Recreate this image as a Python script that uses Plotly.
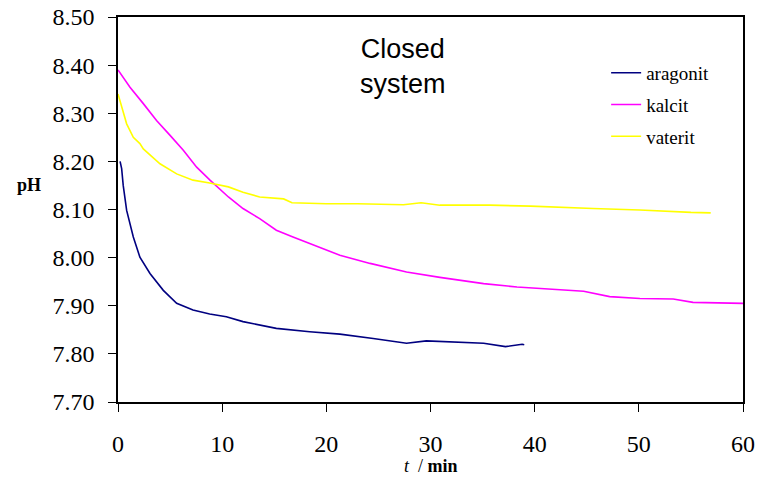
import plotly.graph_objects as go

# pH vs time for the three CaCO3 polymorphs in a closed system
t_aragonit = [0.2, 0.35, 0.5, 0.83, 1.47, 2.1, 3.07, 4.35, 5.63, 7.2, 8.8, 10.4, 12.0,
              13.6, 15.2, 18.4, 21.3, 24.5, 27.7, 29.6, 32.5, 35.1, 37.2, 38.8, 39.0]
ph_aragonit = [8.200, 8.185, 8.150, 8.098, 8.043, 8.001, 7.967, 7.932, 7.905, 7.891, 7.883,
               7.877, 7.867, 7.860, 7.853, 7.846, 7.841, 7.832, 7.822, 7.827, 7.824, 7.822,
               7.815, 7.820, 7.819]

t_kalcit = [0.0, 1.15, 2.43, 3.7, 5.0, 6.27, 7.55, 8.83, 10.6, 12.0, 13.6, 15.2, 16.8,
            18.4, 20.0, 21.3, 24.2, 27.7, 30.9, 35.1, 38.3, 40.5, 44.7, 47.2, 50.1,
            53.3, 55.2, 60.0]
ph_kalcit = [8.390, 8.354, 8.320, 8.285, 8.254, 8.223, 8.188, 8.161, 8.126, 8.102, 8.081,
             8.057, 8.043, 8.029, 8.015, 8.005, 7.988, 7.970, 7.959, 7.946, 7.939, 7.936,
             7.930, 7.919, 7.915, 7.914, 7.907, 7.905]

t_vaterit = [0.0, 0.51, 0.83, 1.47, 2.1, 2.43, 4.03, 5.63, 7.2, 8.8, 10.6, 12.0, 13.6,
             15.9, 16.7, 20.0, 23.0, 27.4, 29.1, 30.9, 35.7, 39.6, 41.5, 45.6, 50.1,
             52.7, 55.0, 56.9]
ph_vaterit = [8.340, 8.299, 8.278, 8.250, 8.237, 8.226, 8.195, 8.174, 8.161, 8.155, 8.147,
              8.136, 8.126, 8.122, 8.114, 8.112, 8.112, 8.110, 8.114, 8.109, 8.109, 8.107,
              8.105, 8.102, 8.099, 8.096, 8.094, 8.093]

series = [
    ("aragonit", t_aragonit, ph_aragonit, "#000080"),
    ("kalcit", t_kalcit, ph_kalcit, "#FF00FF"),
    ("vaterit", t_vaterit, ph_vaterit, "#FFFF00"),
]

x_ticks = [0, 10, 20, 30, 40, 50, 60]
y_ticks = [7.70, 7.80, 7.90, 8.00, 8.10, 8.20, 8.30, 8.40, 8.50]

serif = "Liberation Serif, Times New Roman, serif"

fig = go.Figure()
for name, t, ph, color in series:
    fig.add_trace(go.Scatter(
        x=t, y=ph, mode="lines", name=name, legendgroup=name,
        line=dict(color=color, width=1.6),
    ))

fig.update_layout(
    width=760, height=478,
    margin=dict(l=118, r=17, t=17, b=76),
    paper_bgcolor="white", plot_bgcolor="white",
    font=dict(family=serif, color="black"),
    showlegend=True,
    legend=dict(
        x=0.781, y=0.904, xanchor="left", yanchor="top",
        bgcolor="rgba(0,0,0,0)", borderwidth=0,
        font=dict(family=serif, size=19, color="black"),
        tracegroupgap=4, itemwidth=30,
    ),
    xaxis=dict(
        range=[0, 60], tickvals=x_ticks, ticktext=[str(v) for v in x_ticks],
        showgrid=False, zeroline=False, automargin=False,
        showline=True, linecolor="black", linewidth=1.5, mirror=True,
        ticks="outside", ticklen=8, tickwidth=1, tickcolor="black",
        tickfont=dict(family=serif, size=24, color="black"),
        ticklabelstandoff=11,
    ),
    yaxis=dict(
        range=[7.70, 8.50], tickvals=y_ticks, ticktext=[f"{v:.2f}" for v in y_ticks],
        showgrid=False, zeroline=False, automargin=False,
        showline=True, linecolor="black", linewidth=1.5, mirror=True,
        ticks="outside", ticklen=8, tickwidth=1, tickcolor="black",
        tickfont=dict(family=serif, size=24, color="black"),
        ticklabelstandoff=9,
    ),
    annotations=[
        dict(text="<b>pH</b>", xref="paper", yref="paper",
             x=(28.5 - 118) / 625, y=(402 - 185) / 385.5,
             xanchor="center", yanchor="middle", showarrow=False,
             font=dict(family=serif, size=18, color="black")),
        dict(text="<i>t</i>  / <b>min</b>", xref="paper", yref="paper",
             x=0.5, y=(402 - 466) / 385.5,
             xanchor="center", yanchor="middle", showarrow=False,
             font=dict(family=serif, size=18, color="black")),
        dict(text="Closed<br>system", xref="paper", yref="paper",
             x=(403 - 118) / 625, y=(402 - 66) / 385.5,
             xanchor="center", yanchor="middle", showarrow=False, align="center",
             font=dict(family="Liberation Sans, Arial, sans-serif", size=27, color="black")),
    ],
)

fig.write_html("out.html")
